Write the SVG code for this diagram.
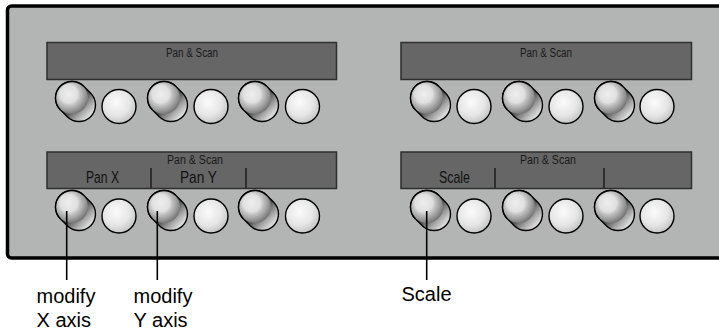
<svg xmlns="http://www.w3.org/2000/svg" xmlns:xlink="http://www.w3.org/1999/xlink" width="719" height="331" viewBox="0 0 719 331">
<style>
.disp{fill:#666666;stroke:#2e2e2e;stroke-width:1.5}
.div{stroke:#1e1e1e;stroke-width:1.5}
.small{font-family:"Liberation Sans",Arial,sans-serif;font-size:12.5px;fill:#1a1a1a}
.mid{font-family:"Liberation Sans",Arial,sans-serif;font-size:17px;fill:#111}
.lbl{font-family:"Liberation Sans",Arial,sans-serif;font-size:20px;fill:#000}
.lead{stroke:#000;stroke-width:1.6;fill:none}
</style>
<defs>
<linearGradient id="gBase" x1="0.2" y1="0.2" x2="0.9" y2="0.9">
<stop offset="0" stop-color="#6a6a6a"/>
<stop offset="0.5" stop-color="#555"/>
<stop offset="0.75" stop-color="#aaa"/>
<stop offset="1" stop-color="#f0f0f0"/>
</linearGradient>
<radialGradient id="gTop" cx="0.4" cy="0.38" r="0.68">
<stop offset="0" stop-color="#eeeeee"/>
<stop offset="0.4" stop-color="#e0e0e0"/>
<stop offset="0.52" stop-color="#c4c4c4"/>
<stop offset="0.7" stop-color="#a4a4a4"/>
<stop offset="0.86" stop-color="#868686"/>
<stop offset="1" stop-color="#666"/>
</radialGradient>
<radialGradient id="gBtn" cx="0.42" cy="0.38" r="0.65">
<stop offset="0" stop-color="#fbfbfb"/>
<stop offset="0.6" stop-color="#e6e6e6"/>
<stop offset="1" stop-color="#c2c2c2"/>
</radialGradient>
<g id="knob">
<path d="M11.67,-11.67 L18.67,-4.67 A16.5,16.5 0 0 1 -4.67,18.67 L-11.67,11.67 A16.5,16.5 0 0 1 11.67,-11.67 Z" fill="url(#gBase)" stroke="#000" stroke-width="1.4"/>
<circle cx="0" cy="0" r="16" fill="url(#gTop)"/>
<path d="M-11.67,11.67 A16.5,16.5 0 0 1 11.67,-11.67" fill="none" stroke="#000" stroke-width="1.4"/>
</g>
<circle id="btn" cx="0" cy="0" r="17" fill="url(#gBtn)" stroke="#000" stroke-width="1.4"/>
</defs>

<rect width="719" height="331" fill="#ffffff"/>

<g id="panel">
<rect x="7.5" y="6" width="740" height="252" rx="4" fill="#b3b5b4" stroke="#000" stroke-width="3.5"/>
</g>

<g id="display-top-left">
<rect class="disp" x="47" y="42.5" width="289.5" height="37"/>
<text class="small" x="192" y="57" text-anchor="middle" textLength="52" lengthAdjust="spacingAndGlyphs">Pan &amp; Scan</text>
</g>
<g id="display-top-right">
<rect class="disp" x="401" y="42.5" width="290.5" height="37"/>
<text class="small" x="546" y="57" text-anchor="middle" textLength="52" lengthAdjust="spacingAndGlyphs">Pan &amp; Scan</text>
</g>
<g id="display-bottom-left">
<rect class="disp" x="47" y="152" width="289.5" height="36.5"/>
<text class="small" x="195" y="163.5" text-anchor="middle" textLength="56" lengthAdjust="spacingAndGlyphs">Pan &amp; Scan</text>
<line class="div" x1="151" y1="168" x2="151" y2="188"/>
<line class="div" x1="246" y1="168" x2="246" y2="188"/>
<text class="mid" x="86" y="182.5" textLength="33" lengthAdjust="spacingAndGlyphs">Pan X</text>
<text class="mid" x="180" y="182.5" textLength="37" lengthAdjust="spacingAndGlyphs">Pan Y</text>
</g>
<g id="display-bottom-right">
<rect class="disp" x="401" y="152" width="290.5" height="36.5"/>
<text class="small" x="548" y="163.5" text-anchor="middle" textLength="56" lengthAdjust="spacingAndGlyphs">Pan &amp; Scan</text>
<line class="div" x1="495" y1="168" x2="495" y2="188"/>
<line class="div" x1="604" y1="168" x2="604" y2="188"/>
<text class="mid" x="439" y="182.5" textLength="31" lengthAdjust="spacingAndGlyphs">Scale</text>
</g>

<g id="controls-top-left">
<use xlink:href="#knob" x="72" y="98"/><use xlink:href="#btn" x="119" y="106.5"/>
<use xlink:href="#knob" x="164" y="98"/><use xlink:href="#btn" x="211" y="106.5"/>
<use xlink:href="#knob" x="255" y="98"/><use xlink:href="#btn" x="302.5" y="106.5"/>
</g>
<g id="controls-top-right">
<use xlink:href="#knob" x="427" y="98"/><use xlink:href="#btn" x="474" y="106.5"/>
<use xlink:href="#knob" x="519" y="98"/><use xlink:href="#btn" x="566" y="106.5"/>
<use xlink:href="#knob" x="611" y="98"/><use xlink:href="#btn" x="657" y="106.5"/>
</g>
<g id="controls-bottom-left">
<use xlink:href="#knob" x="72" y="207"/><use xlink:href="#btn" x="119" y="216"/>
<use xlink:href="#knob" x="164" y="207"/><use xlink:href="#btn" x="211" y="216"/>
<use xlink:href="#knob" x="255" y="207"/><use xlink:href="#btn" x="302.5" y="216"/>
</g>
<g id="controls-bottom-right">
<use xlink:href="#knob" x="427" y="207"/><use xlink:href="#btn" x="474" y="216"/>
<use xlink:href="#knob" x="519" y="207"/><use xlink:href="#btn" x="566" y="216"/>
<use xlink:href="#knob" x="611" y="207"/><use xlink:href="#btn" x="657" y="216"/>
</g>

<g id="connectors">
<line class="lead" x1="66.7" y1="211" x2="66.7" y2="280"/>
<line class="lead" x1="157.3" y1="211" x2="157.3" y2="280"/>
<line class="lead" x1="426.7" y1="211" x2="426.7" y2="280"/>
</g>

<g id="label-x">
<text class="lbl" x="36.5" y="302.5">modify</text>
<text class="lbl" x="36.5" y="326.5">X axis</text>
</g>
<g id="label-y">
<text class="lbl" x="133.5" y="302.5">modify</text>
<text class="lbl" x="133.5" y="326.5">Y axis</text>
</g>
<g id="label-scale">
<text class="lbl" x="401.5" y="301">Scale</text>
</g>
</svg>
